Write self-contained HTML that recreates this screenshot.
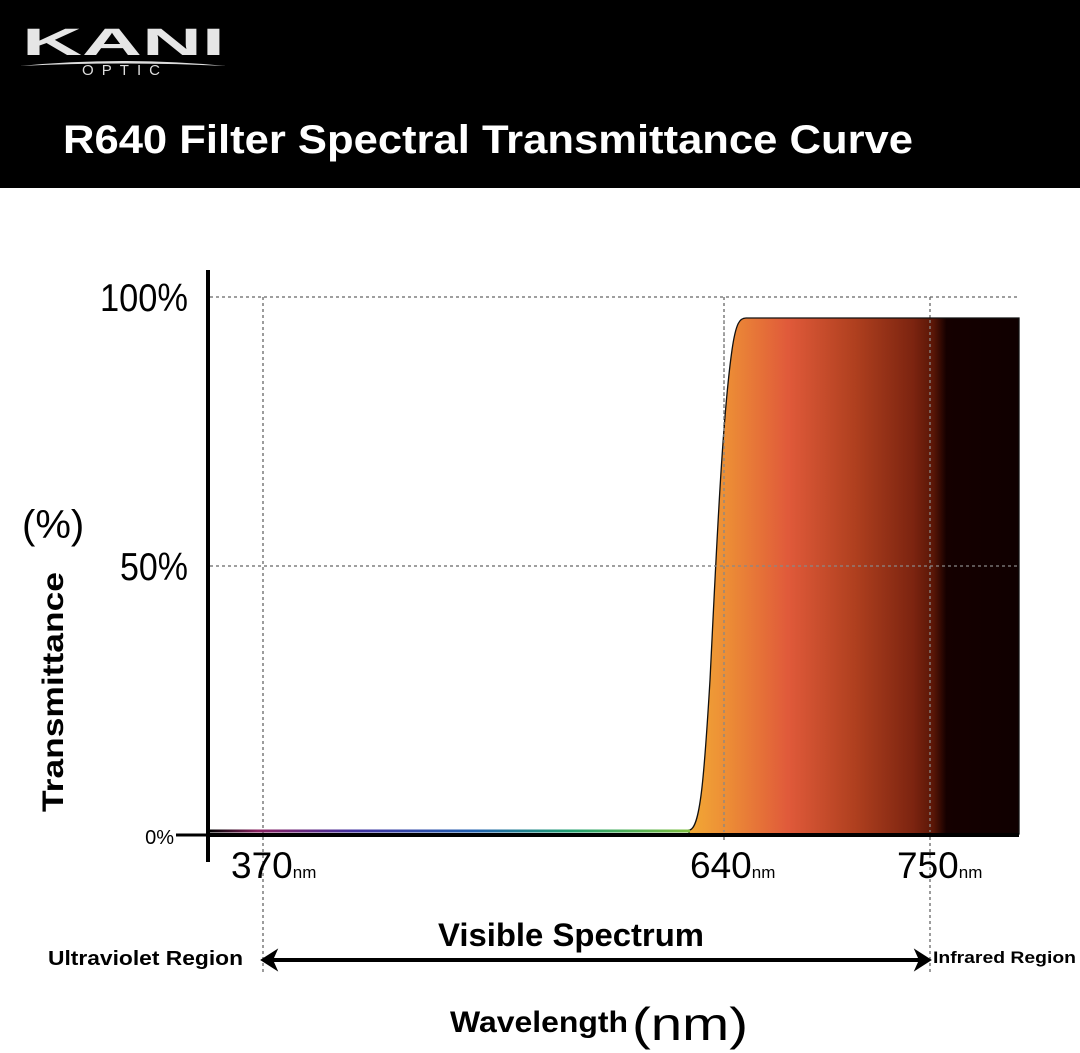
<!DOCTYPE html><html><head><style>body{margin:0;background:#fff}svg{display:block}</style></head><body>
<svg width="1080" height="1053" viewBox="0 0 1080 1053" xmlns="http://www.w3.org/2000/svg" font-family="Liberation Sans, sans-serif">
<defs>
<linearGradient id="g" x1="689" x2="1019" y1="0" y2="0" gradientUnits="userSpaceOnUse">
<stop offset="0" stop-color="#f2a935"/><stop offset="0.12" stop-color="#ec8c36"/><stop offset="0.3" stop-color="#e05a3a"/><stop offset="0.5" stop-color="#b0401f"/><stop offset="0.68" stop-color="#7c2410"/><stop offset="0.74" stop-color="#5a1606"/><stop offset="0.78" stop-color="#150000"/><stop offset="1" stop-color="#100000"/>
</linearGradient>
<linearGradient id="r" x1="210" x2="690" y1="0" y2="0" gradientUnits="userSpaceOnUse">
<stop offset="0" stop-color="#000"/><stop offset="0.1" stop-color="#8a2060"/><stop offset="0.3" stop-color="#4030a0"/><stop offset="0.55" stop-color="#2060b0"/><stop offset="0.75" stop-color="#20a070"/><stop offset="1" stop-color="#80c040"/>
</linearGradient>
</defs>
<rect width="1080" height="188" fill="#000"/>
<text x="22" y="55" font-size="38" font-weight="bold" fill="#e6e6e6" textLength="203" lengthAdjust="spacingAndGlyphs">KANI</text>
<path d="M20 66 Q122 56 226 66 Q122 61 20 66Z" fill="#ddd"/>
<text x="82" y="75" font-size="15" fill="#ddd" textLength="78" lengthAdjust="spacing">OPTIC</text>
<text x="63" y="153" font-size="40" font-weight="bold" fill="#fff" textLength="850" lengthAdjust="spacingAndGlyphs">R640 Filter Spectral Transmittance Curve</text>
<g stroke="#666" stroke-width="1.3" stroke-dasharray="3,3" fill="none">
<line x1="210" y1="297" x2="1019" y2="297"/><line x1="210" y1="566" x2="1019" y2="566"/>
<line x1="263" y1="297" x2="263" y2="975"/><line x1="724" y1="297" x2="724" y2="840"/><line x1="930" y1="297" x2="930" y2="975"/>
</g>
<path d="M689 830 C700 830 704 780 710 680 C716 560 722 420 732 350 C736 322 740 318 746 318 L1019 318 L1019 834 L689 834Z" fill="url(#g)" stroke="#111" stroke-width="1.3"/>
<g stroke="#888" stroke-width="1.3" stroke-dasharray="3,3"><line x1="724" y1="320" x2="724" y2="832"/><line x1="930" y1="320" x2="930" y2="832"/><line x1="690" y1="566" x2="1019" y2="566"/></g>
<line x1="210" y1="831" x2="690" y2="831" stroke="url(#r)" stroke-width="3"/>
<line x1="208" y1="835" x2="1019" y2="835" stroke="#000" stroke-width="4"/>
<line x1="208" y1="270" x2="208" y2="862" stroke="#000" stroke-width="4"/>
<line x1="176" y1="835" x2="208" y2="835" stroke="#000" stroke-width="3"/>
<text x="100" y="311" font-size="39" textLength="88" lengthAdjust="spacingAndGlyphs">100%</text>
<text x="120" y="580" font-size="39" textLength="68" lengthAdjust="spacingAndGlyphs">50%</text>
<text x="174" y="844" font-size="20" text-anchor="end">0%</text>
<text x="22" y="538" font-size="40">(%)</text>
<text transform="translate(63,692) rotate(-90)" font-size="30" font-weight="bold" text-anchor="middle" textLength="240" lengthAdjust="spacingAndGlyphs">Transmittance</text>
<text x="231" y="878" font-size="37">370<tspan font-size="17">nm</tspan></text>
<text x="690" y="878" font-size="37">640<tspan font-size="17">nm</tspan></text>
<text x="897" y="878" font-size="37">750<tspan font-size="17">nm</tspan></text>
<text x="438" y="946" font-size="32" font-weight="bold" textLength="266" lengthAdjust="spacingAndGlyphs">Visible Spectrum</text>
<text x="48" y="965" font-size="20" font-weight="bold" textLength="195" lengthAdjust="spacingAndGlyphs">Ultraviolet Region</text>
<text x="933" y="963" font-size="17" font-weight="bold" textLength="143" lengthAdjust="spacingAndGlyphs">Infrared Region</text>
<line x1="270" y1="960" x2="922" y2="960" stroke="#000" stroke-width="4"/>
<path d="M262 960 L276 951 L272 960 L276 969Z" fill="#000" stroke="#000" stroke-width="2"/>
<path d="M930 960 L916 951 L920 960 L916 969Z" fill="#000" stroke="#000" stroke-width="2"/>
<text x="450" y="1032" font-size="30" font-weight="bold" textLength="178" lengthAdjust="spacingAndGlyphs">Wavelength</text>
<text x="632" y="1040" font-size="46" textLength="116" lengthAdjust="spacingAndGlyphs">(nm)</text>
</svg></body></html>
